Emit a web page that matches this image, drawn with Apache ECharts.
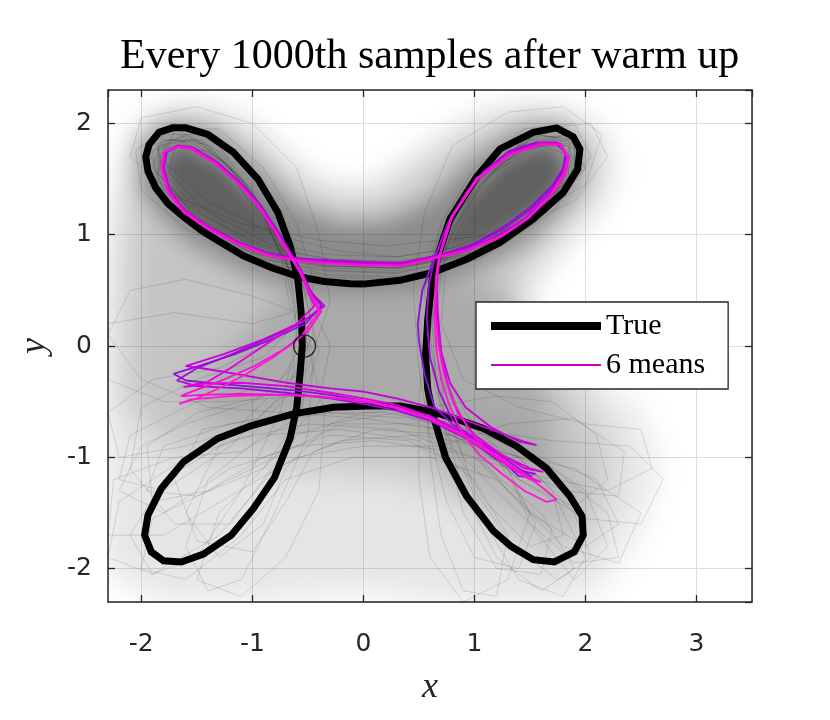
<!DOCTYPE html>
<html><head><meta charset="utf-8">
<script src="https://cdn.jsdelivr.net/npm/echarts@6/dist/echarts.min.js"></script>
<style>html,body{margin:0;padding:0;background:#fff}#c{width:830px;height:720px}</style>
</head><body><div id="c"></div>
<script>
// ---------- data (data units) ----------
const titleText = 'Every 1000th samples after warm up';
const xRange = [-2.3, 3.5];
const yRange = [-2.3, 2.3];
const circlePoint = [[-0.53, 0.0]];

const trueCurve = [[0.00,0.556],[-0.12,0.56],[-0.35,0.58],[-0.57,0.62],[-0.82,0.7],[-1.08,0.81],[-1.30,0.94],[-1.46,1.04],[-1.62,1.16],[-1.76,1.28],[-1.87,1.42],[-1.94,1.57],[-1.96,1.70],[-1.93,1.81],[-1.84,1.92],[-1.72,1.96],[-1.60,1.96],[-1.40,1.90],[-1.17,1.74],[-0.95,1.50],[-0.77,1.20],[-0.66,0.90],[-0.59,0.60],[-0.56,0.30],[-0.55,0.0],[-0.57,-0.25],[-0.60,-0.55],[-0.66,-0.83],[-0.80,-1.18],[-0.99,-1.46],[-1.19,-1.70],[-1.44,-1.87],[-1.64,-1.94],[-1.80,-1.93],[-1.91,-1.85],[-1.97,-1.70],[-1.94,-1.52],[-1.82,-1.28],[-1.62,-1.04],[-1.31,-0.83],[-1.02,-0.72],[-0.63,-0.61],[-0.27,-0.55],[0.04,-0.54],[0.33,-0.54],[0.62,-0.59],[0.85,-0.66],[1.08,-0.74],[1.38,-0.90],[1.65,-1.10],[1.86,-1.35],[1.97,-1.53],[1.98,-1.70],[1.90,-1.85],[1.72,-1.94],[1.53,-1.92],[1.33,-1.80],[1.17,-1.66],[0.93,-1.35],[0.74,-1.00],[0.63,-0.63],[0.58,-0.39],[0.56,-0.09],[0.58,0.24],[0.62,0.60],[0.70,0.90],[0.78,1.14],[1.02,1.52],[1.23,1.77],[1.53,1.92],[1.74,1.96],[1.89,1.88],[1.95,1.77],[1.93,1.59],[1.80,1.38],[1.53,1.14],[1.23,0.93],[0.93,0.78],[0.62,0.66],[0.33,0.59],[0.00,0.556]];

const mean1 = [[0.35,0.74],[0,0.755],[-0.3,0.77],[-0.6,0.79],[-0.85,0.83],[-1.12,0.93],[-1.40,1.07],[-1.62,1.22],[-1.75,1.40],[-1.80,1.60],[-1.77,1.74],[-1.66,1.80],[-1.53,1.78],[-1.33,1.66],[-1.12,1.48],[-0.93,1.27],[-0.79,1.06],[-0.66,0.85],[-0.55,0.66],[-0.48,0.50],[-0.38,0.36],[-0.52,0.20],[-0.85,0.05],[-1.15,-0.07],[-1.45,-0.17],[-1.71,-0.25],[-1.60,-0.31],[-1.3,-0.34],[-0.95,-0.37],[-0.6,-0.40],[-0.3,-0.44],[0,-0.49],[0.3,-0.55],[0.6,-0.64],[0.9,-0.78],[1.2,-0.96],[1.40,-1.10],[1.52,-1.18],[1.40,-1.17],[1.22,-1.0],[1.0,-0.82],[0.80,-0.70],[0.64,-0.55],[0.55,-0.25],[0.50,0.05],[0.49,0.20],[0.53,0.50],[0.62,0.74],[0.74,1.05],[0.90,1.33],[1.08,1.56],[1.30,1.74],[1.55,1.82],[1.73,1.82],[1.82,1.74],[1.80,1.60],[1.70,1.44],[1.52,1.26],[1.28,1.08],[1.0,0.92],[0.7,0.82],[0.35,0.74]];
const mean2 = [[0.35,0.745],[0,0.75],[-0.3,0.765],[-0.6,0.785],[-0.84,0.825],[-1.11,0.925],[-1.39,1.065],[-1.61,1.215],[-1.745,1.395],[-1.80,1.60],[-1.775,1.745],[-1.665,1.80],[-1.535,1.78],[-1.335,1.66],[-1.125,1.48],[-0.935,1.27],[-0.795,1.06],[-0.665,0.85],[-0.555,0.66],[-0.475,0.49],[-0.37,0.35],[-0.55,0.21],[-0.9,0.05],[-1.2,-0.08],[-1.5,-0.2],[-1.68,-0.31],[-1.5,-0.36],[-1.1,-0.38],[-0.7,-0.42],[-0.3,-0.47],[0,-0.52],[0.3,-0.58],[0.6,-0.67],[0.9,-0.82],[1.2,-1.0],[1.42,-1.12],[1.55,-1.15],[1.4,-1.12],[1.2,-1.02],[0.98,-0.86],[0.8,-0.66],[0.68,-0.4],[0.6,-0.1],[0.57,0.25],[0.59,0.55],[0.64,0.78],[0.76,1.1],[0.93,1.38],[1.1,1.58],[1.31,1.75],[1.56,1.83],[1.74,1.83],[1.83,1.73],[1.81,1.59],[1.70,1.42],[1.50,1.22],[1.26,1.05],[0.97,0.9],[0.68,0.81],[0.35,0.745]];
const mean3 = [[0.35,0.75],[0,0.745],[-0.3,0.76],[-0.6,0.78],[-0.84,0.82],[-1.1,0.92],[-1.38,1.06],[-1.6,1.21],[-1.74,1.39],[-1.80,1.60],[-1.78,1.75],[-1.67,1.80],[-1.54,1.78],[-1.34,1.66],[-1.13,1.48],[-0.94,1.27],[-0.8,1.06],[-0.67,0.85],[-0.56,0.66],[-0.47,0.48],[-0.35,0.36],[-0.55,0.22],[-0.9,0.06],[-1.25,-0.07],[-1.60,-0.18],[-1.45,-0.2],[-1.1,-0.26],[-0.7,-0.33],[-0.3,-0.38],[0,-0.41],[0.3,-0.47],[0.6,-0.55],[0.9,-0.66],[1.2,-0.77],[1.45,-0.86],[1.56,-0.89],[1.40,-0.86],[1.15,-0.73],[0.92,-0.55],[0.78,-0.33],[0.70,-0.05],[0.67,0.3],[0.66,0.6],[0.7,0.85],[0.80,1.17],[1.03,1.51],[1.32,1.73],[1.58,1.82],[1.76,1.82],[1.83,1.70],[1.80,1.56],[1.67,1.36],[1.46,1.15],[1.22,0.99],[0.92,0.87],[0.62,0.8],[0.35,0.75]];
const mean4 = [[0.35,0.73],[0,0.735],[-0.3,0.75],[-0.6,0.775],[-0.83,0.815],[-1.11,0.91],[-1.39,1.06],[-1.61,1.21],[-1.75,1.39],[-1.81,1.59],[-1.79,1.74],[-1.67,1.79],[-1.55,1.77],[-1.35,1.65],[-1.13,1.47],[-0.95,1.26],[-0.81,1.05],[-0.68,0.84],[-0.57,0.66],[-0.49,0.47],[-0.44,0.36],[-0.6,0.2],[-0.9,0.0],[-1.2,-0.2],[-1.45,-0.35],[-1.62,-0.37],[-1.5,-0.34],[-1.1,-0.33],[-0.7,-0.36],[-0.3,-0.42],[0,-0.47],[0.3,-0.53],[0.6,-0.63],[0.9,-0.77],[1.2,-0.95],[1.45,-1.10],[1.62,-1.13],[1.5,-1.1],[1.25,-0.98],[1.0,-0.80],[0.85,-0.6],[0.76,-0.35],[0.70,-0.05],[0.66,0.3],[0.65,0.6],[0.68,0.8],[0.79,1.16],[1.02,1.51],[1.31,1.73],[1.59,1.82],[1.77,1.82],[1.84,1.70],[1.81,1.56],[1.68,1.35],[1.47,1.14],[1.23,0.98],[0.93,0.86],[0.63,0.79],[0.35,0.73]];
const mean5 = [[0.35,0.72],[0,0.725],[-0.3,0.74],[-0.6,0.765],[-0.85,0.81],[-1.12,0.91],[-1.40,1.05],[-1.62,1.20],[-1.76,1.38],[-1.82,1.59],[-1.80,1.74],[-1.68,1.79],[-1.55,1.77],[-1.35,1.65],[-1.14,1.47],[-0.95,1.26],[-0.81,1.05],[-0.68,0.84],[-0.57,0.66],[-0.48,0.47],[-0.40,0.31],[-0.55,0.10],[-0.78,-0.08],[-1.05,-0.25],[-1.30,-0.38],[-1.50,-0.47],[-1.66,-0.52],[-1.55,-0.48],[-1.2,-0.45],[-0.8,-0.44],[-0.4,-0.45],[0,-0.49],[0.3,-0.55],[0.6,-0.65],[0.9,-0.80],[1.2,-0.98],[1.45,-1.15],[1.65,-1.30],[1.74,-1.38],[1.65,-1.40],[1.45,-1.30],[1.25,-1.15],[1.05,-0.98],[0.90,-0.80],[0.78,-0.55],[0.70,-0.30],[0.66,-0.05],[0.64,0.25],[0.65,0.55],[0.68,0.80],[0.79,1.15],[1.02,1.50],[1.32,1.72],[1.59,1.81],[1.77,1.81],[1.84,1.69],[1.81,1.55],[1.68,1.35],[1.47,1.14],[1.23,0.98],[0.93,0.86],[0.63,0.79],[0.35,0.72]];
const mean6 = [[0.35,0.725],[0,0.73],[-0.3,0.745],[-0.6,0.77],[-0.84,0.815],[-1.115,0.915],[-1.395,1.055],[-1.615,1.205],[-1.755,1.385],[-1.815,1.595],[-1.795,1.745],[-1.675,1.795],[-1.545,1.775],[-1.345,1.655],[-1.135,1.475],[-0.945,1.265],[-0.805,1.055],[-0.675,0.845],[-0.565,0.665],[-0.47,0.46],[-0.38,0.31],[-0.5,0.13],[-0.7,-0.02],[-0.98,-0.18],[-1.3,-0.32],[-1.6,-0.43],[-1.64,-0.45],[-1.45,-0.44],[-1.1,-0.43],[-0.7,-0.44],[-0.35,-0.46],[0,-0.5],[0.3,-0.56],[0.6,-0.66],[0.9,-0.81],[1.2,-1.0],[1.45,-1.16],[1.6,-1.22],[1.5,-1.2],[1.3,-1.08],[1.1,-0.93],[0.95,-0.75],[0.82,-0.52],[0.73,-0.26],[0.68,0.0],[0.65,0.3],[0.66,0.58],[0.69,0.81],[0.8,1.16],[1.03,1.5],[1.32,1.72],[1.6,1.81],[1.78,1.81],[1.85,1.69],[1.82,1.55],[1.69,1.35],[1.48,1.14],[1.24,0.98],[0.94,0.86],[0.64,0.79],[0.35,0.725]];

// gray posterior samples (hand traced, a representative subset)
const g1 = [[0.3,0.72],[-0.3,0.75],[-0.9,0.85],[-1.5,1.15],[-1.8,1.5],[-1.8,1.78],[-1.55,1.8],[-1.15,1.5],[-0.8,1.05],[-0.55,0.6],[-0.45,0.1],[-0.7,-0.4],[-1.2,-0.9],[-1.8,-1.3],[-2.2,-1.2],[-2.1,-0.8],[-1.5,-0.5],[-0.8,-0.35],[0,-0.4],[0.7,-0.6],[1.3,-0.9],[1.7,-1.3],[1.8,-1.7],[1.5,-1.8],[1.1,-1.4],[0.8,-0.9],[0.65,-0.3],[0.62,0.3],[0.75,0.95],[1.05,1.5],[1.5,1.8],[1.8,1.8],[1.85,1.55],[1.5,1.15],[0.95,0.85],[0.3,0.72]];
const g2 = [[0.3,0.68],[-0.3,0.7],[-0.9,0.8],[-1.45,1.1],[-1.85,1.45],[-1.9,1.75],[-1.65,1.85],[-1.25,1.6],[-0.9,1.15],[-0.65,0.65],[-0.6,0.1],[-0.75,-0.6],[-1.1,-1.3],[-1.5,-1.9],[-1.9,-2.05],[-2.1,-1.7],[-1.8,-1.2],[-1.2,-0.85],[-0.5,-0.7],[0.3,-0.75],[1.0,-1.0],[1.6,-1.5],[1.9,-2.0],[1.6,-2.2],[1.2,-1.9],[0.9,-1.3],[0.7,-0.6],[0.6,0.1],[0.7,0.8],[1.0,1.4],[1.45,1.85],[1.85,1.9],[1.95,1.65],[1.6,1.2],[1.0,0.85],[0.3,0.68]];
const g3 = [[0.3,0.75],[-0.3,0.78],[-0.9,0.9],[-1.5,1.2],[-1.85,1.55],[-1.75,1.85],[-1.45,1.82],[-1.05,1.45],[-0.75,0.95],[-0.5,0.5],[-0.7,0.1],[-1.3,-0.2],[-1.9,-0.3],[-2.3,-0.6],[-2.2,-1.0],[-1.6,-0.9],[-1.0,-0.7],[-0.3,-0.6],[0.4,-0.65],[1.1,-0.8],[1.6,-1.0],[2.1,-1.2],[2.3,-1.6],[2.0,-1.8],[1.5,-1.5],[1.1,-1.1],[0.8,-0.6],[0.55,0.0],[0.6,0.6],[0.85,1.2],[1.25,1.65],[1.7,1.85],[1.95,1.75],[1.8,1.4],[1.3,1.05],[0.7,0.82],[0.3,0.75]];
const g4 = [[0.3,0.7],[-0.4,0.72],[-1.0,0.85],[-1.55,1.2],[-1.9,1.6],[-1.8,1.9],[-1.5,1.9],[-1.15,1.55],[-0.85,1.05],[-0.6,0.55],[-0.45,-0.1],[-0.5,-0.8],[-0.8,-1.5],[-1.1,-2.1],[-1.4,-2.2],[-1.6,-1.8],[-1.4,-1.2],[-0.9,-0.8],[-0.2,-0.75],[0.5,-0.85],[1.0,-1.2],[1.3,-1.7],[1.2,-2.25],[0.9,-2.2],[0.7,-1.7],[0.6,-1.0],[0.55,-0.3],[0.5,0.35],[0.7,1.0],[1.05,1.55],[1.55,1.9],[1.9,1.85],[1.9,1.55],[1.45,1.1],[0.9,0.8],[0.3,0.7]];
const g5 = [[0.2,0.9],[-0.4,0.95],[-1.1,1.1],[-1.7,1.35],[-2.1,1.7],[-2.0,2.05],[-1.5,2.15],[-1.0,2.0],[-0.6,1.6],[-0.4,1.0],[-0.3,0.4],[-0.5,-0.2],[-1.0,-0.5],[-1.6,-0.7],[-2.0,-0.9],[-2.2,-1.3],[-1.8,-1.5],[-1.2,-1.1],[-0.6,-0.9],[0.1,-0.85],[0.8,-0.95],[1.5,-1.15],[2.2,-1.3],[2.6,-1.1],[2.5,-0.75],[2.0,-0.7],[1.4,-0.55],[0.9,-0.3],[0.7,0.2],[0.75,0.8],[1.05,1.45],[1.6,1.95],[2.05,2.0],[2.2,1.7],[1.9,1.3],[1.2,1.0],[0.2,0.9]];
const g6 = [[0.3,0.6],[-0.3,0.62],[-0.9,0.75],[-1.4,1.0],[-1.75,1.35],[-1.85,1.7],[-1.6,1.85],[-1.25,1.65],[-0.9,1.25],[-0.65,0.75],[-0.55,0.25],[-0.9,-0.1],[-1.5,-0.3],[-2.0,-0.55],[-2.1,-1.1],[-1.7,-1.6],[-1.2,-1.6],[-0.9,-1.2],[-0.6,-0.8],[0,-0.6],[0.6,-0.55],[1.2,-0.45],[1.7,-0.5],[2.1,-0.8],[2.2,-1.2],[1.9,-1.45],[1.4,-1.2],[0.95,-0.8],[0.75,-0.3],[0.65,0.3],[0.75,0.9],[1.05,1.45],[1.5,1.8],[1.85,1.8],[1.85,1.5],[1.45,1.1],[0.9,0.75],[0.3,0.6]];
const g7 = [[0.3,0.8],[-0.3,0.82],[-0.85,0.92],[-1.4,1.2],[-1.75,1.55],[-1.7,1.8],[-1.4,1.75],[-1.05,1.4],[-0.75,0.95],[-0.5,0.45],[-0.3,0.0],[-0.4,-0.5],[-0.8,-1.0],[-1.4,-1.3],[-1.9,-1.55],[-2.0,-2.0],[-1.6,-2.1],[-1.1,-1.7],[-0.7,-1.2],[-0.1,-1.0],[0.6,-1.0],[1.2,-1.2],[1.7,-1.65],[1.6,-2.05],[1.2,-2.0],[0.9,-1.5],[0.75,-0.9],[0.7,-0.2],[0.65,0.45],[0.8,1.05],[1.15,1.55],[1.6,1.8],[1.9,1.7],[1.75,1.4],[1.3,1.1],[0.8,0.88],[0.3,0.8]];
const g8 = [[0.3,0.65],[-0.4,0.68],[-1.0,0.8],[-1.6,1.05],[-2.0,1.4],[-2.05,1.75],[-1.8,1.95],[-1.4,1.8],[-1.0,1.4],[-0.75,0.85],[-0.65,0.3],[-1.0,0.2],[-1.7,0.3],[-2.3,0.2],[-2.3,-0.3],[-1.8,-0.5],[-1.2,-0.5],[-0.6,-0.45],[0.1,-0.5],[0.8,-0.7],[1.4,-1.0],[1.9,-1.5],[2.05,-1.9],[1.75,-2.1],[1.35,-1.8],[1.0,-1.3],[0.8,-0.7],[0.6,-0.1],[0.55,0.5],[0.7,1.1],[1.0,1.6],[1.45,1.95],[1.9,2.0],[2.05,1.7],[1.7,1.25],[1.05,0.85],[0.3,0.65]];
const g9 = [[0.3,0.72],[-0.3,0.74],[-0.9,0.86],[-1.45,1.15],[-1.8,1.5],[-1.85,1.8],[-1.55,1.85],[-1.2,1.55],[-0.9,1.1],[-0.62,0.6],[-0.5,0.0],[-0.55,-0.6],[-0.9,-1.1],[-1.5,-1.35],[-1.95,-1.3],[-1.8,-0.9],[-1.2,-0.7],[-0.5,-0.6],[0.2,-0.6],[1.0,-0.75],[1.7,-0.85],[2.4,-0.9],[2.7,-1.2],[2.5,-1.6],[2.0,-1.55],[1.4,-1.2],[0.95,-0.8],[0.7,-0.3],[0.6,0.3],[0.72,0.95],[1.0,1.5],[1.5,1.85],[1.85,1.85],[1.9,1.6],[1.55,1.2],[0.95,0.85],[0.3,0.72]];
const g10 = [[0.3,0.7],[-0.3,0.72],[-0.95,0.84],[-1.5,1.15],[-1.85,1.55],[-1.8,1.85],[-1.5,1.85],[-1.1,1.5],[-0.8,1.0],[-0.58,0.5],[-0.55,-0.1],[-0.9,-0.45],[-1.5,-0.6],[-1.95,-0.9],[-1.9,-1.4],[-1.4,-1.3],[-0.9,-1.0],[-0.3,-0.8],[0.4,-0.85],[0.9,-1.1],[1.1,-1.6],[1.4,-2.1],[1.8,-2.25],[2.0,-1.9],[1.75,-1.4],[1.3,-1.0],[0.85,-0.6],[0.62,-0.1],[0.58,0.5],[0.75,1.1],[1.1,1.6],[1.6,1.9],[1.95,1.8],[1.9,1.5],[1.4,1.1],[0.85,0.82],[0.3,0.7]];
const g11 = [[0.3,0.8],[-0.2,0.85],[-0.8,1.0],[-1.4,1.3],[-1.8,1.65],[-1.7,1.95],[-1.3,1.95],[-0.9,1.6],[-0.6,1.1],[-0.45,0.6],[-0.5,0.1],[-0.8,-0.4],[-1.3,-0.9],[-1.6,-1.5],[-1.3,-1.9],[-0.9,-1.6],[-0.7,-1.1],[-0.3,-0.7],[0.3,-0.6],[0.8,-0.75],[1.3,-1.1],[1.55,-1.6],[1.4,-2.0],[1.0,-1.9],[0.75,-1.4],[0.6,-0.8],[0.5,-0.2],[0.45,0.5],[0.55,1.2],[0.8,1.8],[1.3,2.1],[1.8,2.15],[2.15,1.9],[2.0,1.45],[1.4,1.1],[0.8,0.88],[0.3,0.8]];
const g12 = [[0.3,0.66],[-0.3,0.68],[-0.9,0.78],[-1.4,1.05],[-1.8,1.4],[-1.95,1.8],[-1.7,2.0],[-1.3,1.8],[-0.95,1.3],[-0.7,0.7],[-0.6,0.2],[-0.65,-0.4],[-1.0,-0.8],[-1.6,-1.0],[-2.2,-1.4],[-2.3,-1.9],[-1.9,-2.05],[-1.3,-1.7],[-0.8,-1.1],[-0.2,-0.85],[0.5,-0.8],[1.1,-0.9],[1.7,-1.1],[2.2,-1.5],[2.3,-1.9],[1.9,-1.95],[1.4,-1.5],[0.9,-1.0],[0.65,-0.4],[0.55,0.2],[0.62,0.8],[0.9,1.35],[1.4,1.75],[1.85,1.85],[2.0,1.6],[1.65,1.2],[1.05,0.8],[0.3,0.66]];
const g13 = [[0.3,0.7],[-0.35,0.72],[-1.0,0.83],[-1.5,1.1],[-1.85,1.5],[-1.85,1.82],[-1.55,1.9],[-1.2,1.6],[-0.85,1.1],[-0.6,0.6],[-0.5,0.0],[-0.35,-0.6],[-0.4,-1.3],[-0.7,-1.9],[-1.1,-2.25],[-1.5,-2.1],[-1.3,-1.5],[-0.8,-1.0],[-0.2,-0.7],[0.5,-0.7],[1.2,-0.95],[1.9,-1.1],[2.5,-1.5],[2.3,-1.95],[1.8,-1.8],[1.3,-1.3],[0.9,-0.8],[0.65,-0.2],[0.6,0.4],[0.72,1.0],[1.05,1.55],[1.55,1.9],[1.9,1.85],[1.9,1.55],[1.5,1.15],[0.95,0.82],[0.3,0.7]];
const g14 = [[0.3,0.62],[-0.3,0.64],[-0.95,0.76],[-1.5,1.05],[-1.9,1.45],[-1.95,1.8],[-1.7,1.95],[-1.3,1.75],[-0.95,1.3],[-0.7,0.8],[-0.6,0.3],[-1.0,0.45],[-1.6,0.6],[-2.1,0.5],[-2.3,0.1],[-2.0,-0.3],[-1.4,-0.55],[-0.7,-0.6],[0,-0.65],[0.7,-0.75],[1.2,-1.0],[1.5,-1.5],[1.3,-2.1],[0.9,-2.3],[0.6,-1.9],[0.5,-1.2],[0.5,-0.5],[0.55,0.15],[0.65,0.8],[0.95,1.4],[1.4,1.8],[1.85,1.9],[2.0,1.6],[1.7,1.2],[1.05,0.78],[0.3,0.62]];
const g15 = [[0.3,0.76],[-0.3,0.78],[-0.9,0.88],[-1.45,1.18],[-1.8,1.55],[-1.78,1.85],[-1.45,1.85],[-1.1,1.5],[-0.8,1.05],[-0.55,0.55],[-0.4,-0.05],[-0.6,-0.65],[-1.1,-0.95],[-1.7,-1.0],[-2.25,-1.2],[-2.3,-1.7],[-1.8,-1.7],[-1.2,-1.35],[-0.6,-1.0],[0,-0.9],[0.7,-0.9],[1.3,-0.7],[1.9,-0.65],[2.35,-0.95],[2.3,-1.35],[1.8,-1.3],[1.3,-1.05],[0.9,-0.7],[0.68,-0.2],[0.62,0.4],[0.74,1.0],[1.05,1.5],[1.5,1.82],[1.85,1.82],[1.88,1.55],[1.5,1.15],[0.95,0.86],[0.3,0.76]];
const g16 = [[0.3,0.7],[-0.3,0.72],[-0.9,0.82],[-1.4,1.08],[-1.78,1.45],[-1.85,1.78],[-1.6,1.9],[-1.25,1.65],[-0.9,1.2],[-0.62,0.7],[-0.52,0.2],[-0.62,-0.35],[-0.95,-0.65],[-1.45,-0.75],[-1.7,-1.2],[-1.5,-1.75],[-1.0,-1.85],[-0.7,-1.4],[-0.45,-0.95],[0.1,-0.75],[0.8,-0.8],[1.3,-1.1],[1.5,-1.6],[1.9,-2.1],[2.2,-1.8],[2.0,-1.3],[1.5,-0.95],[0.95,-0.65],[0.72,-0.25],[0.62,0.3],[0.7,0.95],[1.0,1.5],[1.5,1.88],[1.9,1.88],[1.95,1.6],[1.6,1.2],[1.0,0.84],[0.3,0.7]];

// density envelopes of the sample cloud (hand traced regions)
const hazeOuter = [[-2.3,1.0],[-2.2,1.6],[-2.0,2.05],[-1.6,2.15],[-1.1,2.05],[-0.7,1.7],[-0.3,1.4],[0.1,1.45],[0.5,1.75],[1.0,2.05],[1.6,2.15],[2.1,2.0],[2.3,1.6],[2.1,1.2],[1.7,0.8],[1.45,0.35],[2.0,-0.2],[2.5,-0.6],[2.65,-1.1],[2.5,-1.6],[2.2,-2.1],[1.8,-2.35],[1.0,-2.35],[0,-2.2],[-1.0,-2.3],[-1.8,-2.3],[-2.35,-2.0],[-2.35,-1.0],[-2.35,0.0]];
const hazeBody = [[-2.15,0.3],[-2.1,1.3],[-1.95,1.9],[-1.6,2.1],[-1.1,1.95],[-0.6,1.5],[-0.2,1.3],[0.2,1.35],[0.6,1.65],[1.1,2.0],[1.6,2.1],[2.05,1.9],[2.1,1.4],[1.7,0.95],[1.3,0.5],[1.45,0.1],[1.9,-0.4],[2.2,-0.9],[2.15,-1.5],[1.7,-1.7],[1.1,-1.4],[0.3,-1.15],[-0.5,-1.1],[-1.2,-1.05],[-1.8,-0.9],[-2.15,-0.5]];
const hazeTopBand = [[-0.5,0.5],[-1.0,0.62],[-1.6,0.95],[-2.0,1.35],[-2.05,1.8],[-1.8,2.02],[-1.35,1.95],[-0.95,1.6],[-0.6,1.25],[-0.2,1.1],[0.2,1.12],[0.6,1.3],[0.95,1.65],[1.4,1.95],[1.8,2.0],[2.0,1.75],[1.9,1.35],[1.5,0.95],[1.0,0.68],[0.5,0.52],[0,0.5]];
const hazeLoopL = [[-0.6,0.75],[-1.2,0.95],[-1.65,1.25],[-1.8,1.6],[-1.65,1.78],[-1.3,1.6],[-0.9,1.2]];
const hazeLoopR = [[0.65,0.8],[1.2,1.0],[1.65,1.3],[1.8,1.6],[1.65,1.78],[1.3,1.65],[0.95,1.3]];
const hazeNeck = [[-0.65,0.55],[0.3,0.58],[0.75,0.62],[1.3,0.5],[1.5,0.0],[1.7,-0.6],[1.7,-1.1],[1.0,-1.0],[0.3,-0.8],[-0.5,-0.75],[-1.3,-0.7],[-1.6,-0.4],[-1.2,-0.05]];
const hazeLowRight = [[0.6,-0.6],[1.4,-0.8],[1.95,-1.25],[2.1,-1.8],[1.7,-2.05],[1.1,-1.7],[0.7,-1.1]];

// ---------- chart ----------
const chart = echarts.init(document.getElementById('c'), null, {renderer:'canvas'});
const INK = '#262626';

function blurLayer(poly, alpha, blur){
  return {
    type:'custom', coordinateSystem:'cartesian2d', silent:true, z:1, data: poly,
    renderItem(params, api){
      if (params.dataIndex !== 0) return null;
      const cs = params.coordSys;
      const OFF = 1500;
      const pts = poly.map(p => { const c = api.coord(p); return [c[0]-OFF, c[1]]; });
      return {type:'group',
        clipPath:{type:'rect', shape:{x:cs.x, y:cs.y, width:cs.width, height:cs.height}},
        children:[{type:'polygon', shape:{points:pts},
          style:{fill:'#000', shadowBlur:blur, shadowColor:'rgba(0,0,0,'+alpha+')', shadowOffsetX:OFF}}]};
    }
  };
}
function grayLine(d){
  return {type:'line', data:d, symbol:'none', silent:true, z:2, smooth:false,
    lineStyle:{color:'rgba(0,0,0,0.12)', width:1}};
}
function meanLine(name, d, color){
  return {type:'line', name:name, data:d, symbol:'none', silent:true, z:4,
    lineStyle:{color:color, width:1.8}, itemStyle:{color:color}};
}

const axisCommonX = {type:'value', min:xRange[0], max:xRange[1], minInterval:1, maxInterval:1};
const axisCommonY = {type:'value', min:yRange[0], max:yRange[1], minInterval:1, maxInterval:1};
const lineAx = {show:true, onZero:false, lineStyle:{color:INK, width:1.5}};
const tickAx = {show:true, inside:true, length:7, lineStyle:{color:INK, width:1.3}};
const hiddenMark = {color:'rgba(0,0,0,0)', borderWidth:0, opacity:0};

const option = {
  animation:false,
  backgroundColor:'#fff',
  title:{text:titleText, left:120, top:36, padding:0,
    textStyle:{fontFamily:'Liberation Serif', fontSize:42, fontWeight:'normal', color:'#000'}},
  grid:{left:108, right:78, top:90, bottom:118, containLabel:false},
  xAxis:[
    Object.assign({}, axisCommonX, {position:'bottom', axisLine:lineAx, axisTick:tickAx,
      axisLabel:{color:INK, fontFamily:'DejaVu Sans', fontSize:25, margin:30, showMinLabel:false, showMaxLabel:false},
      splitLine:{show:true, lineStyle:{color:'#dedede', width:1}},
      name:'x', nameLocation:'middle', nameGap:68,
      nameTextStyle:{fontFamily:'Liberation Serif', fontStyle:'italic', fontSize:36, color:INK}}),
    Object.assign({}, axisCommonX, {position:'top', axisLine:lineAx, axisTick:tickAx,
      axisLabel:{show:false}, splitLine:{show:false}})
  ],
  yAxis:[
    Object.assign({}, axisCommonY, {position:'left', axisLine:lineAx, axisTick:tickAx,
      axisLabel:{color:INK, fontFamily:'DejaVu Sans', fontSize:25, margin:16, showMinLabel:false, showMaxLabel:false},
      splitLine:{show:true, lineStyle:{color:'#dedede', width:1}},
      name:'y', nameLocation:'middle', nameGap:55,
      nameTextStyle:{fontFamily:'Liberation Serif', fontStyle:'italic', fontSize:36, color:INK}}),
    Object.assign({}, axisCommonY, {position:'right', axisLine:lineAx, axisTick:tickAx,
      axisLabel:{show:false}, splitLine:{show:false}})
  ],
  legend:{
    data:[
      {name:'True', lineStyle:{color:'#000', width:8}, itemStyle:hiddenMark},
      {name:'6 means', lineStyle:{color:'#c800c8', width:2}, itemStyle:hiddenMark}
    ],
    orient:'vertical', left:476, top:302, padding:[9,23,9,11],
    itemWidth:110, itemHeight:24, itemGap:9,
    backgroundColor:'#fff', borderColor:INK, borderWidth:1.3,
    textStyle:{fontFamily:'Liberation Serif', fontSize:30, color:'#000'},
    selectedMode:false
  },
  series:[
    blurLayer(hazeOuter, 0.10, 34),
    blurLayer(hazeBody, 0.14, 34),
    blurLayer(hazeNeck, 0.13, 28),
    blurLayer(hazeLowRight, 0.08, 28),
    blurLayer(hazeTopBand, 0.29, 22),
    blurLayer(hazeLoopL, 0.30, 14),
    blurLayer(hazeLoopR, 0.30, 14),
    grayLine(g1), grayLine(g2), grayLine(g3), grayLine(g4), grayLine(g5), grayLine(g6),
    grayLine(g7), grayLine(g8), grayLine(g9), grayLine(g10), grayLine(g11), grayLine(g12),
    grayLine(g13), grayLine(g14), grayLine(g15), grayLine(g16),
    {type:'line', name:'True', data:trueCurve, symbol:'none', z:3, silent:true,
      lineStyle:{color:'#000', width:7, join:'miter'}, itemStyle:{color:'#000'}},
    meanLine('6 means', mean1, '#8a14d4'),
    meanLine('m2', mean2, '#a20ad8'),
    meanLine('m3', mean3, '#c800dc'),
    meanLine('m4', mean4, '#e000e0'),
    meanLine('m5', mean5, '#ff1ad2'),
    meanLine('m6', mean6, '#f510dc'),
    {type:'scatter', data:circlePoint, symbol:'circle', symbolSize:22, z:6, silent:true,
      itemStyle:{color:'rgba(0,0,0,0)', borderColor:'#000', borderWidth:1.2}}
  ]
};
chart.setOption(option);
</script></body></html>
